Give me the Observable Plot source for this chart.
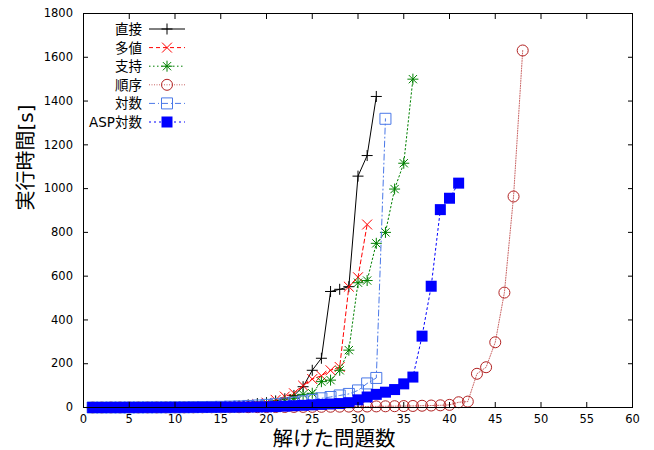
<!DOCTYPE html>
<html><head><meta charset="utf-8">
<script src="https://cdn.jsdelivr.net/npm/d3@7"></script>
<script src="https://cdn.jsdelivr.net/npm/@observablehq/plot@0.6"></script>
<style>
body{margin:0;background:#fff;}
#chart{position:relative;width:654px;height:450px;font-family:"DejaVu Sans","Noto Sans CJK JP",sans-serif;}
#legend{position:absolute;left:0;top:0;pointer-events:none;}
</style></head><body><div id="chart"></div>
<script>
const xTicks = [0,5,10,15,20,25,30,35,40,45,50,55,60];
const yTicks = [0,200,400,600,800,1000,1200,1400,1600,1800];
const xLabel = "解けた問題数";
const yLabel = "実行時間[s]";
const seriesNames = ["直接","多値","支持","順序","対数","ASP対数"];

// 直接
const directY = [0.1,0.1,0.2,0.2,0.3,0.4,0.5,0.6,0.8,1,1.2,1.5,2,2.5,3,4,6,12,18,22,30,40,55,95,170,225,530,540,552,1057,1151,1421];
// 多値
const multiY = [0.1,0.1,0.2,0.2,0.3,0.4,0.5,0.6,0.8,1,1.2,1.5,2,3,4,5,7,10,15,22,35,50,65,100,130,145,170,185,552,595,836];
// 支持
const supportY = [0.1,0.1,0.2,0.2,0.3,0.4,0.5,0.6,0.8,1,1.2,1.5,2,3,4,5,7,9,12,16,20,28,42,60,65,118,125,170,262,570,580,750,800,998,1116,1500];
// 順序
const orderY = [0.2,0.2,0.3,0.3,0.4,0.4,0.5,0.5,0.6,0.6,0.7,0.8,0.9,1,1,1.2,1.3,1.5,1.7,2,2.2,2.4,2.6,2.8,3,3.2,3.5,3.8,4,4.3,4.6,5,5.5,6,6.5,7,8,9,10,12,24,27,154,184,298,525,964,1631];
// 対数
const logY = [0.1,0.1,0.2,0.2,0.3,0.4,0.5,0.6,0.8,1,1.2,1.5,2,2.5,3,4,5,7,9,12,15,18,22,28,35,42,48,55,62,78,110,135,1319];
// ASP対数
const aspY = [0.1,0.1,0.2,0.2,0.3,0.3,0.4,0.5,0.6,0.7,0.8,1,1.2,1.4,1.6,1.8,2,2.3,2.6,3,4,6,8,10,12,14,16,18,22,35,48,60,70,82,108,139,326,554,904,956,1025];

const R = 5.5;
const rOf = s => Math.sqrt(s / Math.PI);
const symPlus = {draw(c, s){const r = rOf(s); c.moveTo(-r,0); c.lineTo(r,0); c.moveTo(0,-r); c.lineTo(0,r);}};
const symTimes = {draw(c, s){const r = rOf(s)*0.9; c.moveTo(-r,-r); c.lineTo(r,r); c.moveTo(-r,r); c.lineTo(r,-r);}};
const symStar = {draw(c, s){const r = rOf(s); const q = r*0.75; c.moveTo(-r,0); c.lineTo(r,0); c.moveTo(0,-r); c.lineTo(0,r); c.moveTo(-q,-q); c.lineTo(q,q); c.moveTo(-q,q); c.lineTo(q,-q);}};
const symCircle = {draw(c, s){const r = rOf(s); c.moveTo(r,0); c.arc(0,0,r,0,2*Math.PI); c.closePath();}};
const symSquare = {draw(c, s){const r = rOf(s); c.rect(-r,-r,2*r,2*r);}};

const styles = [
  {vals: directY, color:"#000000", dash:null, sym:symPlus, fill:"none"},
  {vals: multiY, color:"#ff0000", dash:"4,3", sym:symTimes, fill:"none"},
  {vals: supportY, color:"#008000", dash:"1.5,2.5", sym:symStar, fill:"none"},
  {vals: orderY, color:"#b22222", dash:"1,1.5", sym:symCircle, fill:"none", lineOpacity:0.7},
  {vals: logY, color:"#4a78e8", dash:"6,3,1,3", sym:symSquare, fill:"none"},
  {vals: aspY, color:"#0000ff", dash:"2,3", sym:symSquare, fill:"#0000ff"}
];

const marks = [];
styles.forEach((s, i) => {
  const data = s.vals.map((v, j) => ({x: j + 1, y: v, name: seriesNames[i]}));
  marks.push(Plot.line(data, {x:"x", y:"y", stroke:s.color, strokeWidth:1, strokeDasharray:s.dash, strokeOpacity: s.lineOpacity ?? 1}));
  marks.push(Plot.dot(data, {x:"x", y:"y", symbol:s.sym, r:R, stroke: s.fill === "none" ? s.color : "none", fill:s.fill, strokeWidth:1}));
});

const chart = Plot.plot({
  width: 654, height: 450,
  marginLeft: 83, marginRight: 22, marginTop: 13, marginBottom: 43,
  style: {fontFamily: '"DejaVu Sans","Noto Sans CJK JP",sans-serif', background: "#fff"},
  x: {domain: [0, 60]},
  y: {domain: [0, 1800]},
  marks: [
    ...marks,
    Plot.frame({stroke: "black", strokeWidth: 1}),
    Plot.axisX(xTicks, {anchor: "bottom", tickSize: -5, tickPadding: 12, fontSize: 11.5, tickFormat: d3.format("d"), label: null}),
    Plot.axisX(xTicks, {anchor: "top", tickSize: -5, tickFormat: () => "", label: null}),
    Plot.axisY(yTicks, {anchor: "left", tickSize: -5, tickPadding: 15.5, fontSize: 11.5, tickFormat: d3.format("d"), label: null}),
    Plot.axisY(yTicks, {anchor: "right", tickSize: -5, tickFormat: () => "", label: null}),
    Plot.text([xLabel], {text: d => d, frameAnchor: "bottom", dy: 38, dx: -24, fontSize: 20.5}),
    Plot.text([yLabel], {text: d => d, frameAnchor: "left", rotate: -90, dx: -57, fontSize: 20})
  ]
});
const container = document.getElementById("chart");
container.appendChild(chart);

// legend
const lg = d3.select(container).append("svg").attr("id", "legend").attr("width", 654).attr("height", 450);
styles.forEach((s, i) => {
  const y = 29 + i * 18.6;
  lg.append("text").attr("x", 142).attr("y", y).attr("text-anchor", "end").attr("dominant-baseline", "central")
    .style("font-size", "13.5px").style("font-family", '"DejaVu Sans","Noto Sans CJK JP",sans-serif').text(seriesNames[i]);
  lg.append("line").attr("x1", 149).attr("x2", 185).attr("y1", y).attr("y2", y)
    .attr("stroke", s.color).attr("stroke-dasharray", s.dash).attr("stroke-width", 1).attr("stroke-opacity", s.lineOpacity ?? 1);
  lg.append("path").attr("transform", `translate(167,${y})`).attr("d", d3.symbol(s.sym, R * R * Math.PI)())
    .attr("fill", s.fill).attr("stroke", s.fill === "none" ? s.color : "none").attr("stroke-width", 1);
});
</script>
</body></html>
